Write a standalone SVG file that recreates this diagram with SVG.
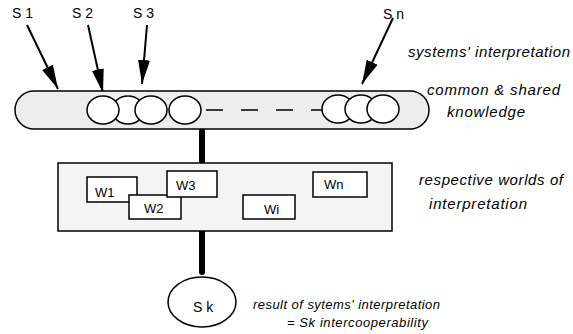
<svg xmlns="http://www.w3.org/2000/svg" width="573" height="334" viewBox="0 0 573 334">
<defs>
<style>
.lbl{font-family:"Liberation Sans",Arial,sans-serif;font-size:14px;fill:#000}
.w{font-family:"Liberation Sans",Arial,sans-serif;font-size:13px;fill:#000}
.it{font-family:"Liberation Sans",Arial,sans-serif;font-size:15px;font-style:italic;fill:#000}
.its{font-family:"Liberation Sans",Arial,sans-serif;font-size:13px;font-style:italic;fill:#000}
.c{fill:#fff;stroke:#000;stroke-width:1.5}
.box{fill:#fff;stroke:#000;stroke-width:1.5}
.arr{stroke:#000;stroke-width:2;fill:none;marker-end:url(#ah)}
.thick{stroke:#000;stroke-width:6;stroke-linecap:round}
</style>
<marker id="ah" markerUnits="userSpaceOnUse" markerWidth="26" markerHeight="14" viewBox="-24 -7 26 14" refX="0" refY="0" orient="auto">
<path d="M0,0 L-24,-6 L-24,6 z" fill="#000"/>
</marker>
</defs>
<rect width="573" height="334" fill="#fff"/>

<g id="connectors">
<line class="arr" x1="27" y1="25" x2="58" y2="89"/>
<line class="arr" x1="88" y1="25" x2="103" y2="93"/>
<line class="arr" x1="147" y1="25" x2="142" y2="84"/>
<line class="arr" x1="393" y1="18" x2="362" y2="84"/>
<line class="thick" x1="202" y1="131" x2="202" y2="162"/>
<line class="thick" x1="202" y1="231" x2="202" y2="272"/>
</g>

<g id="labels-s">
<text class="lbl" x="12" y="18">S 1</text>
<text class="lbl" x="72" y="18">S 2</text>
<text class="lbl" x="133" y="18">S 3</text>
<text class="lbl" x="383" y="19">S n</text>
</g>

<g id="knowledge">
<rect x="15" y="91" width="414" height="38" rx="19" ry="19" fill="#ededed" stroke="#000" stroke-width="1.5"/>
<ellipse class="c" cx="128" cy="110" rx="16" ry="14"/>
<ellipse class="c" cx="103" cy="110" rx="16" ry="14"/>
<ellipse class="c" cx="151" cy="110" rx="16" ry="14"/>
<ellipse class="c" cx="185" cy="110" rx="16" ry="14"/>
<line x1="206" y1="110" x2="323" y2="110" stroke="#000" stroke-width="1.5" stroke-dasharray="17 18"/>
<ellipse class="c" cx="338" cy="109" rx="16" ry="14"/>
<ellipse class="c" cx="361" cy="109" rx="16" ry="14"/>
<ellipse class="c" cx="383" cy="109" rx="16" ry="14"/>
</g>

<g id="worlds">
<rect x="58" y="163" width="334" height="68" fill="#f4f4f4" stroke="#000" stroke-width="1.5"/>
<g id="w1"><rect class="box" x="87" y="177" width="50" height="25"/><text class="w" x="95" y="197">W1</text></g>
<g id="w2"><rect class="box" x="129" y="195" width="52" height="24"/><text class="w" x="144" y="213">W2</text></g>
<g id="w3"><rect class="box" x="167" y="171" width="50" height="26"/><text class="w" x="176" y="190">W3</text></g>
<g id="wi"><rect class="box" x="243" y="195" width="52" height="24"/><text class="w" x="264" y="214">Wi</text></g>
<g id="wn"><rect class="box" x="313" y="172" width="54" height="25"/><text class="w" x="324" y="189">Wn</text></g>
</g>

<g id="sk">
<ellipse cx="202" cy="302" rx="34" ry="25" fill="#fff" stroke="#000" stroke-width="1.5"/>
<text class="lbl" x="193" y="312">S k</text>
</g>

<g id="annotations">
<text class="it" x="408" y="57" textLength="162" lengthAdjust="spacing">systems' interpretation</text>
<text class="it" x="427" y="95" textLength="133" lengthAdjust="spacing">common  &amp; shared</text>
<text class="it" x="447" y="117" textLength="78" lengthAdjust="spacing">knowledge</text>
<text class="it" x="419" y="185" textLength="144" lengthAdjust="spacing">respective worlds of</text>
<text class="it" x="429" y="209" textLength="98" lengthAdjust="spacing">interpretation</text>
<text class="its" x="253" y="309" textLength="187" lengthAdjust="spacing">result of sytems' interpretation</text>
<text class="its" x="287" y="327" textLength="141" lengthAdjust="spacing">= Sk intercooperability</text>
</g>
</svg>
